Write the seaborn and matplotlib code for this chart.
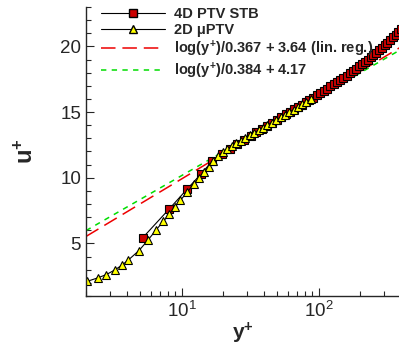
import numpy as np
import pandas as pd
import matplotlib
matplotlib.use("Agg")
import matplotlib.pyplot as plt
import seaborn as sns
from matplotlib.ticker import MultipleLocator, LogLocator, NullFormatter
from matplotlib.lines import Line2D

# 4D PTV STB profile (y+, u+)
stb_y = [5.2, 8.1, 10.9, 13.8, 16.7, 19.6, 22.5, 25.5, 28.6, 31.8, 35.1, 38.5,
         42.0, 45.7, 49.5, 53.4, 57.5, 61.7, 66.1, 70.7, 75.5, 80.5, 85.7, 91.1,
         96.8, 102.7, 108.9, 115.3, 122.0, 129.0, 136.3, 143.9, 151.8, 160.0,
         168.6, 177.5, 186.8, 196.5, 206.6, 217.1, 228.0, 239.4, 251.2, 263.5,
         276.3, 289.6, 303.4, 317.8, 332.8, 348.4, 364.6, 381.5, 399.0]
stb_u = [5.44, 7.62, 9.11, 10.28, 11.26, 11.78, 12.20, 12.57, 12.90, 13.20, 13.47, 13.73,
         13.96, 14.19, 14.41, 14.62, 14.82, 15.01, 15.20, 15.38, 15.56, 15.74, 15.92, 16.09,
         16.27, 16.44, 16.61, 16.78, 16.95, 17.12, 17.29, 17.46, 17.62, 17.77,
         17.95, 18.13, 18.31, 18.49, 18.67, 18.83, 18.99, 19.17, 19.34, 19.52,
         19.71, 19.89, 20.08, 20.28, 20.48, 20.69, 20.89, 21.10, 21.30]

# 2D muPTV profile (y+, u+)
mu_y = [2.05, 2.43, 2.82, 3.26, 3.65, 4.06, 4.88, 5.67, 6.49, 7.34, 8.12, 8.93, 9.77,
        10.9, 12.2, 13.4, 14.5, 15.7, 17.0, 18.4, 19.9, 21.5, 23.2, 25.0, 27.0, 29.1,
        31.4, 33.9, 36.5, 39.3, 42.3, 45.5, 49.0, 52.7, 56.7, 61.0, 65.6, 70.5, 75.8,
        81.5, 87.6]
mu_u = [2.12, 2.37, 2.63, 2.99, 3.34, 3.72, 4.46, 5.25, 6.02, 6.68, 7.22, 7.78, 8.27,
        8.88, 9.49, 10.00, 10.40, 10.85, 11.30, 11.65, 11.95, 12.20, 12.42, 12.63, 12.83,
        13.03, 13.23, 13.43, 13.62, 13.82, 14.01, 14.20, 14.40, 14.60, 14.80, 14.99,
        15.19, 15.38, 15.58, 15.78, 15.98]

# log-law fits: u+ = ln(y+)/kappa + B
kappa = [0.367, 0.384]
B = [3.64, 4.17]
fit_labels = [r"log(y$^{\mathbf{+}}$)/0.367 + 3.64 (lin. reg.)",
              r"log(y$^{\mathbf{+}}$)/0.384 + 4.17"]

sns.set_style("ticks")
plt.rcParams["font.family"] = ["Liberation Sans", "DejaVu Sans"]
plt.rcParams["mathtext.fontset"] = "custom"
plt.rcParams["mathtext.rm"] = "Liberation Sans"
plt.rcParams["mathtext.it"] = "Liberation Sans:italic"
plt.rcParams["mathtext.bf"] = "Liberation Sans:bold"

fig = plt.figure(figsize=(3.99, 3.49), dpi=100)
ax = fig.add_axes([0.2155, 0.152, 0.7845, 0.828])

y_line = np.geomspace(2, 400, 200)
fit_colors = ["#EE0000", "#00DD00"]
fit_dash = [(9.5, 4.5), (3.5, 3.5)]
for k, b, c, d in zip(kappa, B, fit_colors, fit_dash):
    sns.lineplot(x=y_line, y=np.log(y_line) / k + b, ax=ax, color=c, lw=1.1,
                 dashes=False, estimator=None, sort=False, linestyle=(0, d))

stb = pd.DataFrame({"y": stb_y, "u": stb_u})
mu = pd.DataFrame({"y": mu_y, "u": mu_u})
sns.lineplot(data=stb, x="y", y="u", ax=ax, color="black", lw=0.8, marker="s",
             markersize=5.5, markerfacecolor="#CC0000", markeredgecolor="black",
             markeredgewidth=0.8, estimator=None, sort=False)
sns.lineplot(data=mu, x="y", y="u", ax=ax, color="black", lw=0.8, marker="^",
             markersize=6, markerfacecolor="#FFFF00", markeredgecolor="black",
             markeredgewidth=0.8, estimator=None, sort=False)

ax.set_xscale("log")
ax.set_xlim(2, 386)
ax.set_ylim(1, 23)
ax.yaxis.set_major_locator(MultipleLocator(5))
ax.yaxis.set_minor_locator(MultipleLocator(1))
ax.xaxis.set_minor_locator(LogLocator(base=10, subs=np.arange(2, 10)))
ax.xaxis.set_minor_formatter(NullFormatter())
ax.tick_params(which="both", direction="in", labelsize=13.5, width=0.8)
ax.tick_params(which="major", length=6)
ax.tick_params(which="minor", length=3.5)
for s in ["top", "right"]:
    ax.spines[s].set_visible(False)
for s in ["left", "bottom"]:
    ax.spines[s].set_linewidth(1.0)

ax.set_xlabel(r"$\mathbf{y^{+}}$", fontsize=15, labelpad=0)
ax.set_ylabel(r"$\mathbf{u^{+}}$", fontsize=17, labelpad=16)

handles = [
    Line2D([], [], color="black", lw=0.8, marker="s", markersize=5.5,
           markerfacecolor="#CC0000", markeredgecolor="black"),
    Line2D([], [], color="black", lw=0.8, marker="^", markersize=6,
           markerfacecolor="#FFFF00", markeredgecolor="black"),
    Line2D([], [], color=fit_colors[0], lw=1.1, linestyle=(0, fit_dash[0])),
    Line2D([], [], color=fit_colors[1], lw=1.1, linestyle=(0, fit_dash[1])),
]
labels = ["4D PTV STB", "2D \u03bcPTV"] + fit_labels
ax.legend(handles, labels, loc="upper left", frameon=False,
          prop={"weight": "bold", "size": 10.5}, handlelength=4.4,
          handletextpad=0.6, labelspacing=0.12, borderaxespad=0.0,
          bbox_to_anchor=(0.03, 1.02))

fig.savefig("out.png", dpi=100)
